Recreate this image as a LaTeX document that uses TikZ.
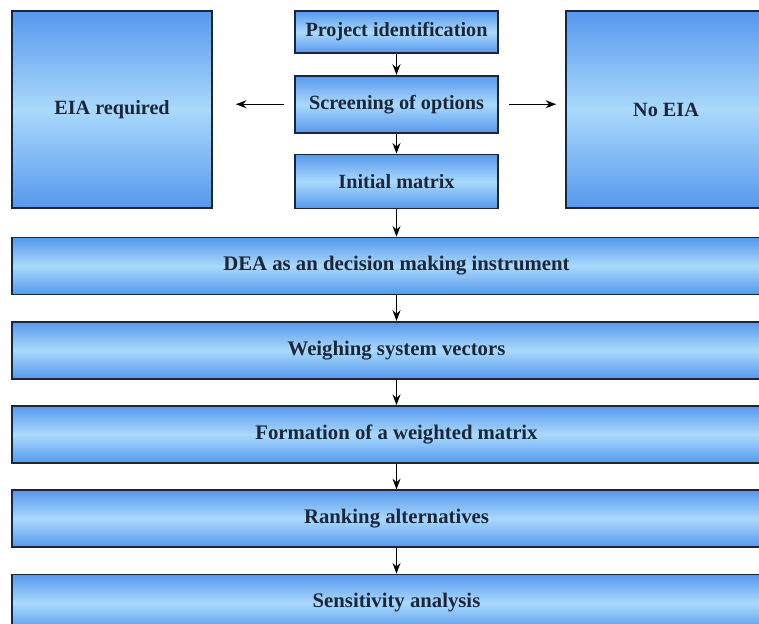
\documentclass[tikz,border=0pt]{standalone}
\usepackage{fontspec}
\setmainfont{Liberation Serif}
\usepackage{tikz}
\usetikzlibrary{positioning,arrows.meta}
\definecolor{boxdark}{RGB}{86,152,238}
\definecolor{boxlight}{RGB}{170,217,251}
\definecolor{boxline}{RGB}{28,38,58}

\begin{document}
\begin{tikzpicture}[x=0.02cm, y=-0.02cm,
  blk/.style = {draw=boxline, line width=1pt, top color=boxdark, bottom color=boxdark, middle color=boxlight,
    text=boxline, font=\fontsize{11.5}{13}\selectfont\bfseries, inner sep=0pt},
  wide/.style = {blk, minimum width=15.38cm, minimum height=1.14cm, font=\fontsize{11.8}{14}\selectfont\bfseries},
  col/.style = {blk, minimum width=4.06cm},
  big/.style = {blk, minimum width=4cm, minimum height=3.94cm},
  arr/.style = {-{Stealth[length=6pt,width=4.5pt]}, line width=0.8pt}]
\useasboundingbox (0,0) rectangle (759,624);
\clip (0,0) rectangle (759,624);

\node[col, minimum height=0.84cm] (1) at (396.5,32) {Project identification};
\node[col, minimum height=1.14cm] (2) [below=0.42cm of 1] {Screening of options};
\node[col, minimum height=1.08cm] (3) [below=0.4cm of 2] {Initial matrix};
\node[big] (4) at (112,109.5) {EIA required};
\node[big] (5) at (666,109.5) {No EIA};
\node[wide] (6) at (396.5,266) {DEA as an decision making instrument};
\node[wide] (7) [below=0.51cm of 6] {Weighing system vectors};
\node[wide] (8) [below=0.51cm of 7] {Formation of a weighted matrix};
\node[wide] (9) [below=0.51cm of 8] {Ranking alternatives};
\node[wide] (10) [below=0.51cm of 9] {Sensitivity analysis};

\draw[arr] (1) -- (2);
\draw[arr] (2) -- (3);
\draw[arr, shorten <=0.2cm, shorten >=0.46cm] (2.west) -- (2.west -| 4.east);
\draw[arr, shorten <=0.2cm, shorten >=0.18cm] (2.east) -- (2.east -| 5.west);
\draw[arr] (3) -- (6);
\draw[arr] (6) -- (7);
\draw[arr] (7) -- (8);
\draw[arr] (8) -- (9);
\draw[arr] (9) -- (10);
\end{tikzpicture}
\end{document}
